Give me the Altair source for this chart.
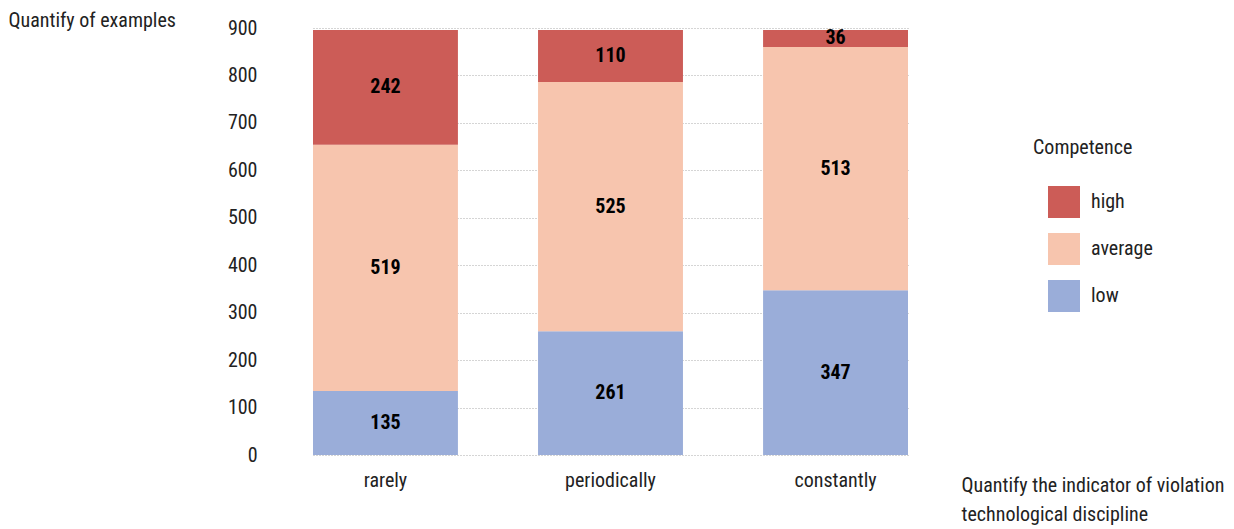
import altair as alt
import pandas as pd

# Frequency of violating technological discipline (x categories)
categories = ["rarely", "periodically", "constantly"]
# Competence levels, listed bottom-to-top of each stack
levels = ["low", "average", "high"]
low_values = [135, 261, 347]
average_values = [519, 525, 513]
high_values = [242, 110, 36]

level_colors = {"high": "#cc5c57", "average": "#f7c5ae", "low": "#9aadd9"}
FONT = "Roboto Condensed, Arial Narrow, Roboto, sans-serif"
FS = 20

rows = []
for i, cat in enumerate(categories):
    for rank, (lvl, vals) in enumerate(zip(levels, [low_values, average_values, high_values])):
        rows.append({"category": cat, "level": lvl, "rank": rank, "value": vals[i]})
df = pd.DataFrame(rows)

legend_order = ["high", "average", "low"]

base = alt.Chart(df).transform_stack(
    stack="value",
    groupby=["category"],
    sort=[alt.SortField("rank", order="ascending")],
    as_=["y0", "y1"],
).transform_calculate(mid="(datum.y0 + datum.y1) / 2")

x_axis = alt.Axis(
    title=["Quantify the indicator of violation", "technological discipline"],
    titleAlign="left",
    titleAnchor="start",
    titleBaseline="top",
    titleX=681,
    titleY=20,
    titleLineHeight=29,
    titleFont=FONT,
    titleFontSize=FS,
    titleFontWeight="normal",
    titleColor="#222222",
    labelAngle=0,
    labelFont=FONT,
    labelFontSize=FS,
    labelColor="#222222",
    labelPadding=15,
    ticks=False,
    domain=False,
    grid=False,
)
x_scale = alt.Scale(range=[33, 628], paddingInner=0.356, paddingOuter=0)

y_axis = alt.Axis(
    title="Quantify of examples",
    titleAngle=0,
    titleAlign="left",
    titleBaseline="top",
    titleX=-272,
    titleY=-18,
    titleFont=FONT,
    titleFontSize=FS,
    titleFontWeight="normal",
    titleColor="#222222",
    values=list(range(0, 901, 100)),
    labelFont=FONT,
    labelFontSize=FS,
    labelColor="#222222",
    labelPadding=23,
    ticks=False,
    domain=False,
    grid=True,
    gridColor="#aaaaaa",
    gridDash=[1, 2],
    gridWidth=1,
)
y_scale = alt.Scale(domain=[0, 900], nice=False)

bars = base.mark_bar(strokeWidth=0).encode(
    x=alt.X("category:N", sort=categories, scale=x_scale, axis=x_axis),
    y=alt.Y("y0:Q", scale=y_scale, axis=y_axis),
    y2="y1:Q",
    color=alt.Color(
        "level:N",
        scale=alt.Scale(domain=legend_order, range=[level_colors[l] for l in legend_order]),
        legend=alt.Legend(
            title="Competence",
            orient="none",
            legendX=753,
            legendY=110,
            titleFont=FONT,
            titleFontSize=FS,
            titleFontWeight="normal",
            titleColor="#222222",
            titlePadding=28,
            labelFont=FONT,
            labelFontSize=FS,
            labelColor="#222222",
            labelOffset=11,
            symbolType="square",
            symbolSize=1024,
            symbolStrokeWidth=0,
            symbolOffset=15,
            rowPadding=15,
        ),
    ),
)

labels = base.mark_text(font=FONT, fontSize=FS, fontWeight="bold", color="#000000").encode(
    x=alt.X("category:N", sort=categories, scale=x_scale, axis=x_axis),
    y=alt.Y("mid:Q", scale=y_scale, axis=y_axis),
    text="value:Q",
)

chart = (
    alt.layer(bars, labels)
    .properties(
        width=700,
        height=427,
        autosize=alt.AutoSizeParams(type="none"),
        padding={"left": 280, "top": 28, "right": 254, "bottom": 74},
        view=alt.ViewBackground(stroke="transparent", strokeWidth=0),
    )
    .configure_view(strokeWidth=0, stroke="transparent")
    .configure(background="white")
)

chart.save("out.html", embed_options={"renderer": "svg", "actions": False})
